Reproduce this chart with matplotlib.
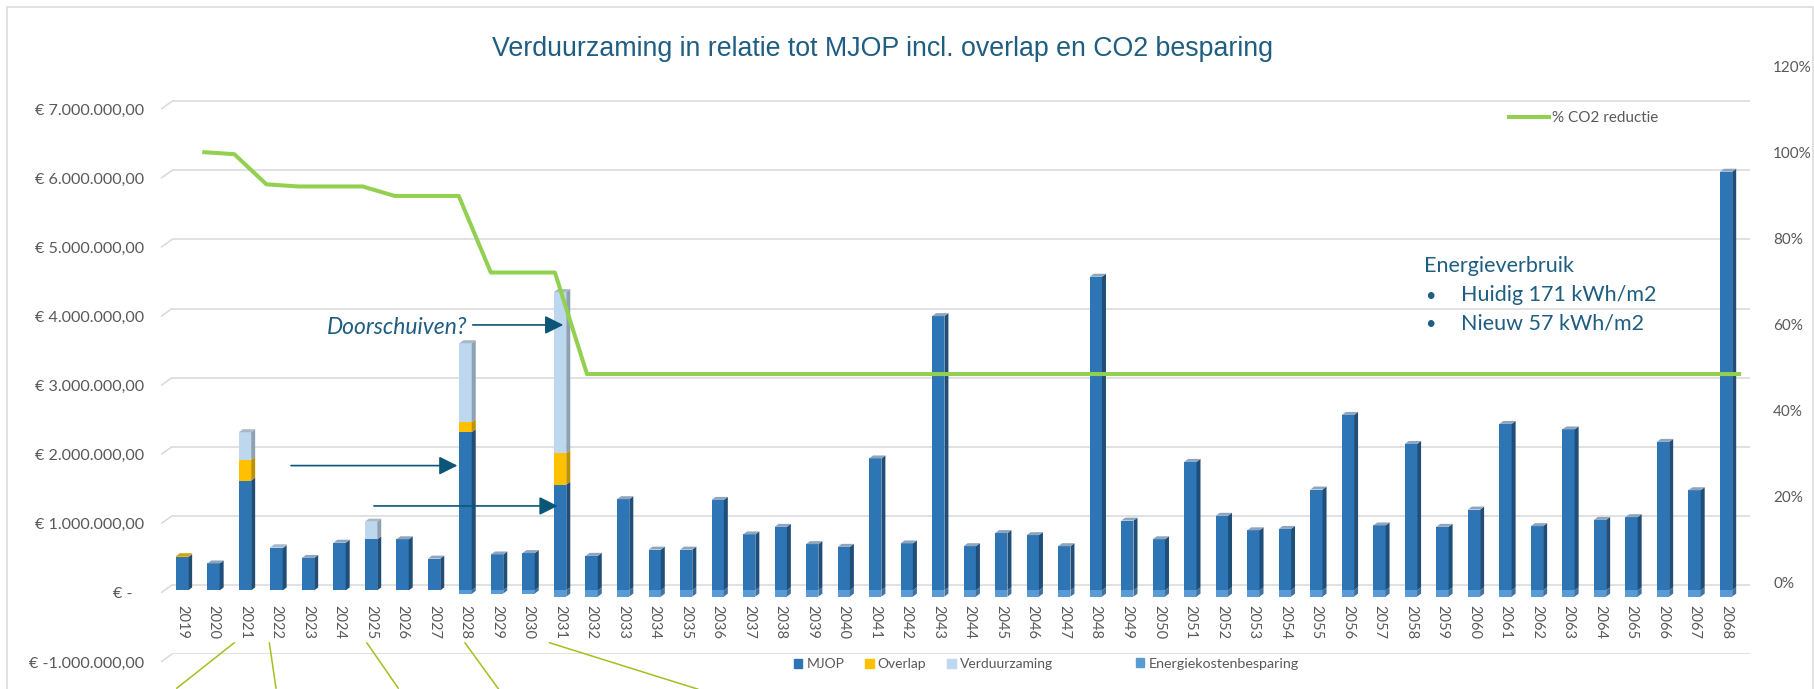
import matplotlib
matplotlib.use('Agg')
import matplotlib.pyplot as plt
from matplotlib.transforms import ScaledTranslation
from matplotlib.patches import Polygon, Rectangle, Patch
from matplotlib.lines import Line2D
import numpy as np

# ---------------- data ----------------
years = [2019, 2020, 2021, 2022, 2023, 2024, 2025, 2026, 2027, 2028,
         2029, 2030, 2031, 2032, 2033, 2034, 2035, 2036, 2037, 2038,
         2039, 2040, 2041, 2042, 2043, 2044, 2045, 2046, 2047, 2048,
         2049, 2050, 2051, 2052, 2053, 2054, 2055, 2056, 2057, 2058,
         2059, 2060, 2061, 2062, 2063, 2064, 2065, 2066, 2067, 2068]

mjop = [480000, 390000, 1590000, 610000, 470000, 690000, 740000, 740000, 460000, 2290000,
        520000, 540000, 1530000, 500000, 1320000, 590000, 590000, 1310000, 810000, 920000,
        670000, 630000, 1910000, 680000, 3970000, 640000, 830000, 800000, 640000, 4540000,
        1010000, 740000, 1860000, 1080000, 870000, 890000, 1460000, 2540000, 940000, 2120000,
        920000, 1170000, 2410000, 930000, 2330000, 1020000, 1060000, 2150000, 1450000, 6060000]

overlap = [15000, 0, 300000, 0, 0, 0, 0, 0, 0, 145000,
           0, 0, 458000, 0, 0, 0, 0, 0, 0, 0,
           0, 0, 0, 0, 0, 0, 0, 0, 0, 0,
           0, 0, 0, 0, 0, 0, 0, 0, 0, 0,
           0, 0, 0, 0, 0, 0, 0, 0, 0, 0]

verduurzaming = [0, 0, 400000, 15000, 0, 0, 255000, 0, 0, 1143000,
                 0, 0, 2330000, 0, 0, 0, 0, 0, 0, 0,
                 0, 0, 0, 0, 0, 0, 0, 0, 0, 0,
                 0, 0, 0, 0, 0, 0, 0, 0, 0, 0,
                 0, 0, 0, 0, 0, 0, 0, 0, 0, 0]

energiekosten = [0, 0, 0, 0, 0, 0, 0, 0, 0, -50000,
                 -45000, -45000, -90000, -90000, -90000, -90000, -90000, -90000, -90000, -90000,
                 -90000, -90000, -90000, -90000, -90000, -90000, -90000, -90000, -90000, -90000,
                 -90000, -90000, -90000, -90000, -90000, -90000, -90000, -90000, -90000, -90000,
                 -90000, -90000, -90000, -90000, -90000, -90000, -90000, -90000, -90000, -90000]

co2 = [np.nan, 100.0, 99.5, 92.5, 92.0, 92.0, 92.0, 89.8, 89.8, 89.8,
       72.0, 72.0, 72.0, 48.4, 48.4, 48.4, 48.4, 48.4, 48.4, 48.4,
       48.4, 48.4, 48.4, 48.4, 48.4, 48.4, 48.4, 48.4, 48.4, 48.4,
       48.4, 48.4, 48.4, 48.4, 48.4, 48.4, 48.4, 48.4, 48.4, 48.4,
       48.4, 48.4, 48.4, 48.4, 48.4, 48.4, 48.4, 48.4, 48.4, 48.4]

left_ticks = [-1000000, 0, 1000000, 2000000, 3000000, 4000000, 5000000, 6000000, 7000000]
left_labels = ['€ -1.000.000,00', '€ -   ', '€ 1.000.000,00', '€ 2.000.000,00', '€ 3.000.000,00',
               '€ 4.000.000,00', '€ 5.000.000,00', '€ 6.000.000,00', '€ 7.000.000,00']
right_ticks = [0, 20, 40, 60, 80, 100, 120]
right_labels = ['0%', '20%', '40%', '60%', '80%', '100%', '120%']

title = 'Verduurzaming in relatie tot MJOP incl. overlap en CO2 besparing'
series_names = ['MJOP', 'Overlap', 'Verduurzaming', 'Energiekostenbesparing']
line_name = '% CO2 reductie'

# ---------------- style ----------------
C_MJOP = ('#2E75B6', '#1F4E79', '#8FA5BE')      # front, side, top
C_OVER = ('#FFC000', '#BF9000', '#CFA21C')
C_VERD = ('#BDD7EE', '#8EA1B3', '#A9B8C6')
C_ENER = ('#5B9BD5', '#41719C', '#8FB4D9')
GREEN = '#92D050'
TXT = '#1F5D82'
ARROW = '#0B5676'
GRID = '#D9D9D9'
GRAY = '#595959'
CALLOUT = '#A2C01F'

W, H, DPI = 1814, 689, 100
fig = plt.figure(figsize=(W / DPI, H / DPI), dpi=DPI)
fig.patch.set_facecolor('white')


def fx(px):
    return px / W


def fy(py):
    return 1 - py / H


L, R, T, B = 172, 1750, 66, 654
rect = [fx(L), fy(B), fx(R) - fx(L), fy(T) - fy(B)]
ax = fig.add_axes(rect)
ax2 = fig.add_axes(rect, frameon=False)
ax2.patch.set_alpha(0)

ax.set_xlim(-0.317, 49.76)
ax.set_ylim(-1000000, 7511000)
ax2.set_xlim(0.056, 49.276)
ax2.set_ylim(-16.67, 120)

for s in ax.spines.values():
    s.set_visible(False)
ax.set_facecolor('none')

# gridlines
ax.set_yticks(left_ticks)
ax.set_yticklabels(left_labels, fontfamily='Lato', fontsize=11.6, color=GRAY)
ax.tick_params(axis='y', length=0, pad=19.8)
ax.grid(axis='y', color=GRID, lw=1.1)
ax.set_axisbelow(True)
lab_shift = ScaledTranslation(0, -8 / DPI, fig.dpi_scale_trans)
for lbl in ax.get_yticklabels():
    lbl.set_transform(lbl.get_transform() + lab_shift)

# floor diagonals at the left
for v in left_ticks:
    ax.annotate('', xy=(0, v), xycoords=('axes fraction', 'data'),
                xytext=(-10.5, -7.5), textcoords='offset pixels',
                arrowprops=dict(arrowstyle='-', color=GRID, lw=1.1, shrinkA=0, shrinkB=0),
                annotation_clip=False)

# year labels
x = np.arange(len(years))
ax.set_xticks(x)
ax.set_xticklabels([str(y) for y in years], rotation=270, fontfamily='Lato',
                   fontsize=10.5, color=GRAY)
ax.tick_params(axis='x', length=0, pad=-35.3)

# ---------------- 3D-ish bars ----------------
shift = ax.transData + ScaledTranslation(0, -5.5 / DPI, fig.dpi_scale_trans)
p0 = ax.transData.transform((0, 0))
p1 = ax.transData.transform((1, 1000000))
px_x = p1[0] - p0[0]
px_y = (p1[1] - p0[1]) / 1000000
dxd = 4.0 / px_x
dyd = 3.0 / px_y
bw = 0.39


def draw_segment(xi, b, t, cols, top_face):
    if t - b == 0:
        return
    ax.bar(xi, t - b, bottom=b, width=bw, color=cols[0], linewidth=0,
           transform=shift, zorder=3)
    xr = xi + bw / 2
    side = Polygon([(xr, b), (xr + dxd, b + dyd), (xr + dxd, t + dyd), (xr, t)],
                   closed=True, facecolor=cols[1], edgecolor='none', transform=shift, zorder=3)
    ax.add_patch(side)
    if top_face:
        xl = xi - bw / 2
        top = Polygon([(xl, t), (xl + dxd, t + dyd), (xr + dxd, t + dyd), (xr, t)],
                      closed=True, facecolor=cols[2], edgecolor='none', transform=shift, zorder=3)
        ax.add_patch(top)


for i in range(len(years)):
    segs = [(mjop[i], C_MJOP), (overlap[i], C_OVER), (verduurzaming[i], C_VERD)]
    segs = [s for s in segs if s[0] > 0]
    base = 0
    for k, (val, cols) in enumerate(segs):
        draw_segment(x[i], base, base + val, cols, k == len(segs) - 1)
        base += val
    if energiekosten[i] < 0:
        draw_segment(x[i], energiekosten[i], 0, C_ENER, False)

# ---------------- CO2 line ----------------
ax2.plot(x, co2, color=GREEN, lw=2.9, solid_joinstyle='round', solid_capstyle='butt', zorder=5)
ax2.set_xticks([])
ax2.yaxis.tick_right()
ax2.set_yticks(right_ticks)
ax2.set_yticklabels(right_labels, fontfamily='Lato', fontsize=11, color=GRAY)
ax2.tick_params(axis='y', length=0, pad=16.6)

# ---------------- annotations ----------------
ax.text(9.067, 3632000, 'Doorschuiven?', ha='right', va='baseline', fontfamily='Lato',
        style='italic', fontsize=16.5, color=TXT, zorder=6)
arrow_kw = dict(arrowstyle='-|>,head_length=0.4,head_width=0.2', mutation_scale=28,
                color=ARROW, lw=1.2, shrinkA=0, shrinkB=0)
ax.annotate('', xy=(12.10, 3763000), xytext=(9.226, 3763000), arrowprops=arrow_kw, zorder=6)
ax.annotate('', xy=(8.74, 1727000), xytext=(3.46, 1727000), arrowprops=arrow_kw, zorder=6)
ax.annotate('', xy=(11.92, 1143000), xytext=(6.09, 1143000), arrowprops=arrow_kw, zorder=6)

# callout lines below the axis
callouts = [(2, -10.7, (-57.6, -45.6)), (3, -7.2, (6.7, -45.6)), (6, -4.3, (31.6, -45.6)),
            (9, -0.7, (33.8, -46.6)), (12, -10.8, (149.0, -46.6))]
for idx, dx0, (ex, ey) in callouts:
    xa = ax.transData.transform((idx, 0))[0] + dx0
    ax.annotate('', xy=(xa + ex, H - 642.7 + ey), xycoords='figure pixels',
                xytext=(xa, H - 642.7), textcoords='figure pixels',
                arrowprops=dict(arrowstyle='-', color=CALLOUT, lw=1.1, shrinkA=0, shrinkB=0),
                annotation_clip=False)

# Energieverbruik box
fig.text(fx(1424.3), fy(271.7), 'Energieverbruik', ha='left', va='baseline',
         fontfamily='Lato', fontsize=15.5, color=TXT)
for yb, txt in [(300.7, 'Huidig 171 kWh/m2'), (329.3, 'Nieuw 57 kWh/m2')]:
    fig.text(fx(1425), fy(yb), '•', ha='left', va='baseline', fontfamily='Lato',
             fontsize=13, color=TXT)
    fig.text(fx(1460.7), fy(yb), txt, ha='left', va='baseline', fontfamily='Lato',
             fontsize=15.5, color=TXT)

# title
fig.text(fx(882), fy(56.2), title, ha='center', va='baseline', fontfamily='Liberation Sans',
         fontsize=19.25, color=TXT)

# legends
leg1 = fig.legend([Line2D([0], [0], color=GREEN, lw=2.9)], [line_name], loc='center left',
                  bbox_to_anchor=(fx(1509), fy(118.3)), frameon=False, borderpad=0,
                  borderaxespad=0, handlelength=2.6, handletextpad=0.2,
                  prop={'family': 'Lato', 'size': 11}, labelcolor=GRAY)
leg2 = fig.legend([Patch(color=C_MJOP[0]), Patch(color=C_OVER[0]), Patch(color=C_VERD[0])],
                  series_names[:3], loc='center left', bbox_to_anchor=(fx(794), fy(664)),
                  ncol=3, frameon=False, borderpad=0, borderaxespad=0, handlelength=0.6,
                  handleheight=0.6, handletextpad=0.3, columnspacing=1.5,
                  prop={'family': 'Lato', 'size': 10}, labelcolor=GRAY)
leg3 = fig.legend([Patch(color=C_ENER[0])], series_names[3:], loc='center left',
                  bbox_to_anchor=(fx(1135.7), fy(664)), frameon=False, borderpad=0,
                  borderaxespad=0, handlelength=0.6, handleheight=0.6, handletextpad=0.3,
                  prop={'family': 'Lato', 'size': 10.3}, labelcolor=GRAY)

# chart frame
fig.patches.append(Rectangle((fx(7.3), fy(720)), fx(1812.5) - fx(7.3), fy(6.7) - fy(720),
                             transform=fig.transFigure, fill=False, edgecolor=GRID, lw=1.1))

fig.savefig('out.png', dpi=DPI, facecolor='white')
